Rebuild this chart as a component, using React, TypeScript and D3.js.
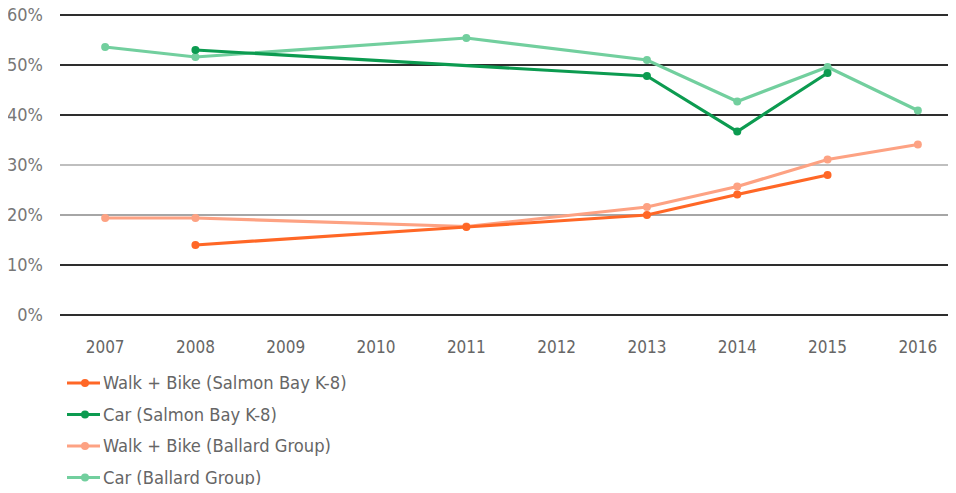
import React, { useRef, useEffect } from "react";
import * as d3 from "d3";

const years = ["2007", "2008", "2009", "2010", "2011", "2012", "2013", "2014", "2015", "2016"];
const yTicks = [0, 10, 20, 30, 40, 50, 60];

const walkSalmon = [
  { year: "2008", value: 14 },
  { year: "2011", value: 17.6 },
  { year: "2013", value: 20 },
  { year: "2014", value: 24.1 },
  { year: "2015", value: 28 },
];
const carSalmon = [
  { year: "2008", value: 53 },
  { year: "2013", value: 47.8 },
  { year: "2014", value: 36.7 },
  { year: "2015", value: 48.4 },
];
const walkBallard = [
  { year: "2007", value: 19.4 },
  { year: "2008", value: 19.4 },
  { year: "2011", value: 17.7 },
  { year: "2013", value: 21.6 },
  { year: "2014", value: 25.7 },
  { year: "2015", value: 31.1 },
  { year: "2016", value: 34.1 },
];
const carBallard = [
  { year: "2007", value: 53.6 },
  { year: "2008", value: 51.6 },
  { year: "2011", value: 55.4 },
  { year: "2013", value: 51 },
  { year: "2014", value: 42.7 },
  { year: "2015", value: 49.6 },
  { year: "2016", value: 40.9 },
];

const seriesNames = [
  "Walk + Bike (Salmon Bay K-8)",
  "Car (Salmon Bay K-8)",
  "Walk + Bike (Ballard Group)",
  "Car (Ballard Group)",
];
const seriesColors = ["#ff6726", "#0c9b50", "#fda283", "#72cf9e"];

const App = () => {
  const svgRef = useRef<SVGSVGElement>(null);

  useEffect(() => {
    const svg = d3.select(svgRef.current);
    svg.selectAll("*").remove();
    const width = 956,
      font = "'DejaVu Sans Condensed', 'Liberation Sans Narrow', sans-serif";

    const x = d3.scaleBand().domain(years).range([60, 963]);
    const y = d3.scaleLinear().domain([0, 60]).range([315, 15]);

    // grid lines
    const gridColor = (t: number) => (t === 30 ? "#aaa" : t === 20 ? "#888" : "#2e2e2e");
    svg
      .append("g")
      .selectAll("line")
      .data(yTicks)
      .enter()
      .append("line")
      .attr("x1", 60)
      .attr("x2", width)
      .attr("y1", (d) => y(d))
      .attr("y2", (d) => y(d))
      .attr("stroke", (d) => gridColor(d))
      .attr("stroke-width", (d) => (d === 30 || d === 20 ? 1.5 : 2));

    // y labels
    svg
      .append("g")
      .selectAll("text")
      .data(yTicks)
      .enter()
      .append("text")
      .attr("x", 43)
      .attr("y", (d) => y(d))
      .attr("dy", "0.35em")
      .attr("text-anchor", "end")
      .attr("font-family", font)
      .attr("font-size", 18)
      .attr("fill", "#777")
      .text((d) => `${d}%`);

    // x labels
    svg
      .append("g")
      .selectAll("text")
      .data(years)
      .enter()
      .append("text")
      .attr("x", (d) => (x(d) as number) + x.bandwidth() / 2)
      .attr("y", 353)
      .attr("text-anchor", "middle")
      .attr("font-family", font)
      .attr("font-size", 17)
      .attr("fill", "#666")
      .text((d) => d);

    const cx = (d: { year: string }) => (x(d.year) as number) + x.bandwidth() / 2;
    const line = d3
      .line<{ year: string; value: number }>()
      .x(cx)
      .y((d) => y(d.value));

    // draw Ballard first so Salmon Bay lines sit on top
    const allSeries = [walkSalmon, carSalmon, walkBallard, carBallard];
    const order = [2, 3, 0, 1];
    order.forEach((i) => {
      const data = allSeries[i];
      const g = svg.append("g");
      g.append("path")
        .datum(data)
        .attr("d", line)
        .attr("fill", "none")
        .attr("stroke", seriesColors[i])
        .attr("stroke-width", 3.2);
      g.selectAll("circle")
        .data(data)
        .enter()
        .append("circle")
        .attr("cx", cx)
        .attr("cy", (d) => y(d.value))
        .attr("r", 4)
        .attr("fill", seriesColors[i]);
    });

    // legend
    const legend = svg
      .append("g")
      .selectAll("g")
      .data(seriesNames)
      .enter()
      .append("g")
      .attr("transform", (d, i) => `translate(67,${383 + i * 31.5})`);
    legend
      .append("line")
      .attr("x1", 0)
      .attr("x2", 33)
      .attr("stroke", (d, i) => seriesColors[i])
      .attr("stroke-width", 3);
    legend
      .append("circle")
      .attr("cx", 18)
      .attr("r", 4)
      .attr("fill", (d, i) => seriesColors[i]);
    legend
      .append("text")
      .attr("x", 36)
      .attr("dy", "0.35em")
      .attr("font-family", font)
      .attr("font-size", 18.2)
      .attr("fill", "#666")
      .text((d) => d);
  }, []);

  return (
    <div style={{ margin: -8 }}>
      <svg ref={svgRef} width={956} height={493} style={{ display: "block", background: "#fff" }}></svg>
    </div>
  );
};

export default App;
